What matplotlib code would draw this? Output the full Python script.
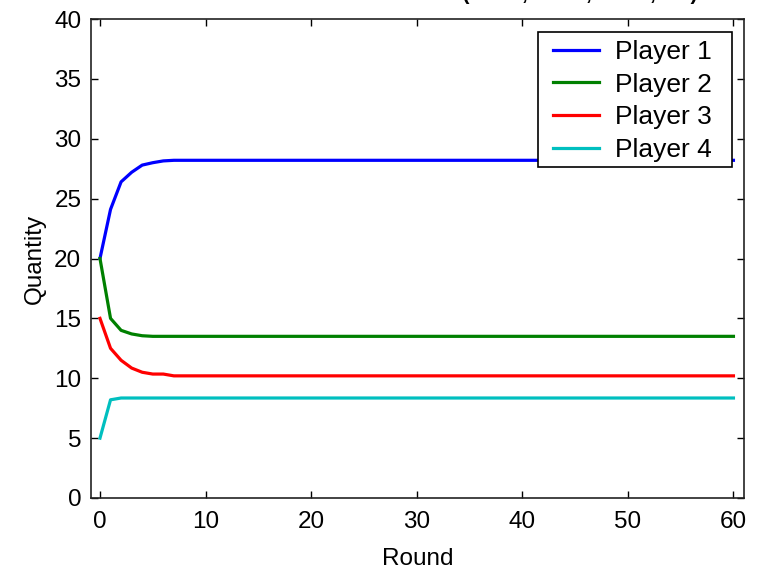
import numpy as np
import matplotlib
matplotlib.use("Agg")
import matplotlib.pyplot as plt
from matplotlib.patches import Rectangle

plt.rcParams['font.family'] = ['Liberation Sans', 'DejaVu Sans']

# Quantities per round
rounds = np.arange(0, 61)
player1 = [20.0, 24.1, 26.4, 27.2, 27.8, 28.0, 28.15] + [28.2] * 54
player2 = [20.0, 15.0, 14.0, 13.7, 13.55] + [13.5] * 56
player3 = [15.0, 12.5, 11.5, 10.85, 10.5, 10.35, 10.35, 10.2] + [10.2] * 53
player4 = [5.0, 8.2, 8.35] + [8.35] * 58

labels = ["Player 1", "Player 2", "Player 3", "Player 4"]
colors = ["#0000ff", "#008000", "#ff0000", "#00bfbf"]

W, H = 761, 565
fig = plt.figure(figsize=(W / 100, H / 100), dpi=100)
ax = fig.add_axes([91 / W, 1 - 498 / H, (744 - 91) / W, (498 - 19) / H])

for ys, lab, c in zip([player1, player2, player3, player4], labels, colors):
    ax.plot(rounds, ys, color=c, lw=2.3, label=lab)

ax.set_xlim(-0.85, 61)
ax.set_ylim(0, 40)
ax.set_xticks(range(0, 61, 10))
ax.set_yticks(range(0, 41, 5))
ax.tick_params(direction="in", length=5, width=1, top=True, right=True,
               labelsize=17.5, pad=7)
ax.tick_params(axis="x", pad=9)
for s in ax.spines.values():
    s.set_linewidth(1.2)
    s.set_color("#222222")

ax.set_ylabel("Quantity", fontsize=17.5, labelpad=6)
ax.set_xlabel("Round", fontsize=17.5, labelpad=11)

# legend entries without frame, box drawn separately (MATLAB-like padding)
leg = ax.legend(loc="upper left", bbox_to_anchor=(553 / W, 1 - 40 / H),
                bbox_transform=fig.transFigure, fontsize=19, frameon=False,
                handlelength=1.75, handletextpad=0.6, labelspacing=0.33,
                borderpad=0, borderaxespad=0)
box = Rectangle((538 / W, 1 - 167 / H), (732 - 538) / W, (167 - 32) / H,
                transform=fig.transFigure, facecolor="white", edgecolor="black",
                linewidth=1.2, zorder=4)
fig.add_artist(box)
leg.set_zorder(5)
fig.add_artist(leg)

# title sits above the canvas, only the tails of its commas show
fig.text(430 / W, 1 + 0.5 / H, "Cournot Model with Costs c = (10.00, 12.50, 15.00, 2.5)",
         ha="center", va="baseline", fontsize=15, fontweight="bold")

fig.savefig("out.png", dpi=100)
